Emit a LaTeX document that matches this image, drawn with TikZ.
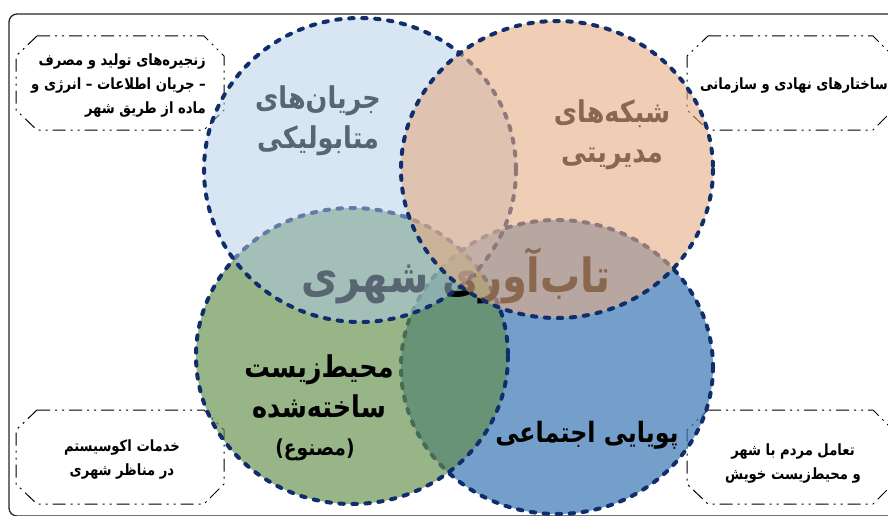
\documentclass[tikz,border=0pt]{standalone}
\usepackage{fontspec}
\TeXXeTstate=1
\newfontfamily\fafont[Script=Arabic,FakeStretch=0.85]{DejaVu Sans}
\newcommand{\fa}[1]{\beginR #1\endR}
\definecolor{navy}{HTML}{0F2E6B}
\definecolor{cblue}{RGB}{177,203,231}
\definecolor{corange}{RGB}{230,172,132}
\definecolor{cgreen}{RGB}{98,142,75}
\definecolor{cdeep}{RGB}{62,122,182}
\tikzset{
  x=1pt,y=-1pt,
  venn/.style={draw=navy,line width=4pt,dash pattern=on 4.4pt off 8.6pt,line cap=round},
  sideline/.style={draw=black,line width=1pt,dash pattern=on 13pt off 5pt on 2pt off 5pt on 2pt off 5pt},
  sidetext/.style={font=\fafont\bfseries\fontsize{15.5}{24}\selectfont,text=black,inner sep=0pt},
  biglabel/.style={font=\fafont\bfseries\fontsize{30}{40}\selectfont,align=center,text=black,inner sep=0pt},
  title/.style={font=\fafont\bfseries\fontsize{47}{50}\selectfont,text=black,inner sep=0pt}
}
\begin{document}
\begin{tikzpicture}
\useasboundingbox (0,0) rectangle (888,516);
\begin{scope}
\clip (0,0) rectangle (888,516);
\draw[line width=1.3pt,black!85,rounded corners=8pt] (900,14) -- (9,14) -- (9,516) -- (900,516);
\draw[sideline] (37,36) -- (204,36) -- (224,56) -- (224,110) -- (204,130) -- (37,130) -- (16,110) -- (16,56) -- cycle;
\draw[sideline] (708,36) -- (873,36) -- (893,56) -- (893,110) -- (873,130) -- (708,130) -- (687,110) -- (687,56) -- cycle;
\draw[sideline] (37,410) -- (204,410) -- (224,430) -- (224,484) -- (204,504) -- (37,504) -- (16,484) -- (16,430) -- cycle;
\draw[sideline] (708,410) -- (873,410) -- (893,430) -- (893,484) -- (873,504) -- (708,504) -- (687,484) -- (687,430) -- cycle;
\end{scope}
\node[sidetext,align=right,anchor=east] (tltext) at (206,86) {\fa{زنجیره‌های تولید و مصرف}\\\fa{– جریان اطلاعات – انرژی و}\\\fa{ماده از طریق شهر}};
\node[sidetext] (trtext) at (794,86) {\fa{ساختارهای نهادی و سازمانی}};
\node[sidetext,align=center] (bltext) at (122,460) {\fa{خدمات اکوسیستم}\\\fa{در مناظر شهری}};
\node[sidetext,align=center] (brtext) at (793,463) {\fa{تعامل مردم با شهر}\\\fa{و محیط‌زیست خویش}};
\fill[cdeep,fill opacity=.72] (557,367) ellipse [x radius=156,y radius=147];
\draw[venn] (557,367) ellipse [x radius=156,y radius=147];
\fill[cgreen,fill opacity=.66] (352,356) ellipse [x radius=156,y radius=148];
\draw[venn] (352,356) ellipse [x radius=156,y radius=148];
\node[biglabel] (built) at (319,387) {\fa{محیط‌زیست}\\\fa{ساخته‌شده}};
\node[font=\fafont\bfseries\fontsize{22}{26}\selectfont,inner sep=0pt] (man) at (315,450) {\fa{(مصنوع)}};
\node[font=\fafont\bfseries\fontsize{28}{34}\selectfont,inner sep=0pt] (social) at (587,435) {\fa{پویایی اجتماعی}};
\node[title] (main) at (456,276) {\fa{تاب‌آوری شهری}};
\node[biglabel] (flows) at (318,121) {\fa{جریان‌های}\\\fa{متابولیکی}};
\node[biglabel] (nets) at (612,135) {\fa{شبکه‌های}\\\fa{مدیریتی}};
\fill[cblue,fill opacity=.5] (360,170) ellipse [x radius=156,y radius=152];
\draw[venn] (360,170) ellipse [x radius=156,y radius=152];
\fill[corange,fill opacity=.6] (557,169.5) ellipse [x radius=156,y radius=148.5];
\draw[venn] (557,169.5) ellipse [x radius=156,y radius=148.5];
\end{tikzpicture}
\end{document}
